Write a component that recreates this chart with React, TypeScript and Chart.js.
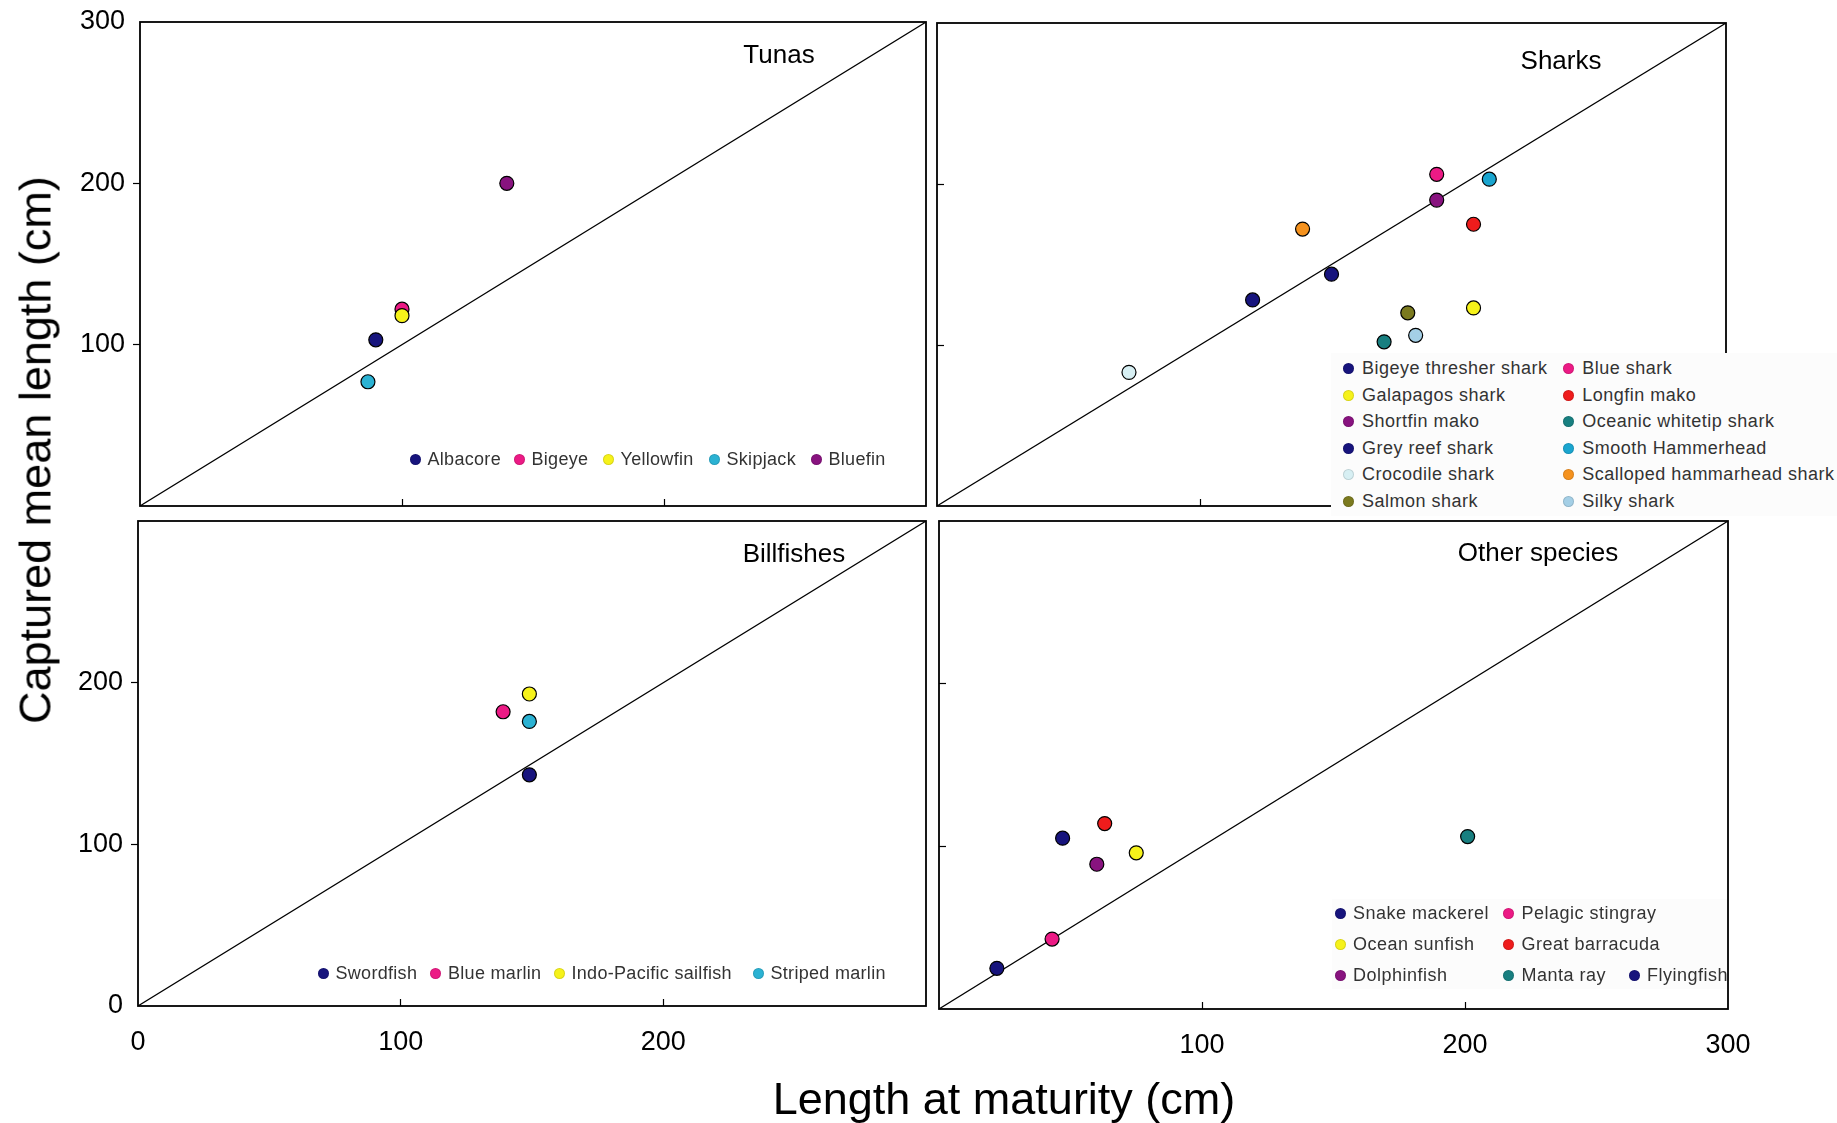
import React, { useEffect, useRef } from 'react';
import { Chart, registerables } from 'chart.js';

Chart.register(...registerables);

// ---------- data ----------
const AXIS_MIN = 0;
const AXIS_MAX = 300;
const AXIS_STEP = 100;
const oneToOneX = [0, 300];
const oneToOneY = [0, 300];

const tunaSpecies = ['Albacore', 'Bigeye', 'Yellowfin', 'Skipjack', 'Bluefin'];
const tunaMaturity = [90, 100, 100, 87, 140];
const tunaCaptured = [103, 122, 118, 77, 200];

const sharkSpecies = [
  'Bigeye thresher shark', 'Blue shark',
  'Galapagos shark', 'Longfin mako',
  'Shortfin mako', 'Oceanic whitetip shark',
  'Grey reef shark', 'Smooth Hammerhead',
  'Crocodile shark', 'Scalloped hammarhead shark',
  'Salmon shark', 'Silky shark',
];
const sharkMaturity = [150, 190, 204, 204, 190, 170, 120, 210, 73, 139, 179, 182];
const sharkCaptured = [144, 206, 123, 175, 190, 102, 128, 203, 83, 172, 120, 106];

const billfishSpecies = ['Swordfish', 'Blue marlin', 'Indo-Pacific sailfish', 'Striped marlin'];
const billfishMaturity = [149, 139, 149, 149];
const billfishCaptured = [143, 182, 193, 176];

const otherSpecies = ['Snake mackerel', 'Pelagic stingray', 'Ocean sunfish', 'Great barracuda', 'Dolphinfish', 'Manta ray', 'Flyingfish'];
const otherMaturity = [47, 43, 75, 63, 60, 201, 22];
const otherCaptured = [105, 43, 96, 114, 89, 106, 25];

// tick labels shown in each panel
const tunaYTickLabels = [100, 200, 300];
const billfishYTickLabels = [0, 100, 200];
const billfishXTickLabels = [0, 100, 200];
const otherXTickLabels = [100, 200, 300];
const noTickLabels: number[] = [];

// ---------- styles ----------
const NAVY = '#17147d';
const PINK = '#ec1a85';
const YELLOW = '#f6f21a';
const SKY = '#2bb2d3';
const PURPLE = '#88137f';
const RED = '#ef1c1c';
const TEAL = '#187f80';
const OLIVE = '#7b7a1f';
const ORANGE = '#f5921e';
const SILKY = '#a4cfe6';
const PALE = '#d7eff3';
const HAMMER = '#1aa5cf';

const tunaColors = [NAVY, PINK, YELLOW, SKY, PURPLE];
const sharkColors = [NAVY, PINK, YELLOW, RED, PURPLE, TEAL, NAVY, HAMMER, PALE, ORANGE, OLIVE, SILKY];
const billfishColors = [NAVY, PINK, YELLOW, SKY];
const otherColors = [NAVY, PINK, YELLOW, RED, PURPLE, TEAL, NAVY];

const FONT = '"Liberation Sans", Arial, Helvetica, sans-serif';

const LM = 110;
const TM = 22;
const RM = 40;
const BM = 70;

type Box = { l: number; t: number; r: number; b: number };

type PanelSpec = {
  box: Box;
  xs: number[];
  ys: number[];
  colors: string[];
  xLabels: number[];
  yLabels: number[];
  yOutside: boolean;
};

const framePlugin = {
  id: 'panelFrame',
  afterDatasetsDraw(chart: any) {
    const { ctx, chartArea: a } = chart;
    ctx.save();
    ctx.strokeStyle = '#000';
    ctx.lineWidth = 1.8;
    ctx.strokeRect(a.left, a.top, a.right - a.left, a.bottom - a.top);
    ctx.restore();
  },
};

function buildConfig(spec: PanelSpec): any {
  const markTick = (c: any) =>
    c.tick && (c.tick.value === 100 || c.tick.value === 200) ? '#000' : 'rgba(0,0,0,0)';
  return {
    type: 'scatter',
    data: {
      datasets: [
        {
          data: spec.xs.map((x, i) => ({ x, y: spec.ys[i] })),
          backgroundColor: spec.colors,
          borderColor: '#000',
          borderWidth: 1.2,
          pointRadius: 7,
          pointHoverRadius: 7,
          order: 0,
        },
        {
          data: oneToOneX.map((x, i) => ({ x, y: oneToOneY[i] })),
          showLine: true,
          borderColor: '#000',
          borderWidth: 1.2,
          pointRadius: 0,
          fill: false,
          order: 1,
        },
      ],
    },
    options: {
      responsive: false,
      animation: false,
      events: [],
      layout: { padding: { left: 0, top: TM, right: RM, bottom: 0 } },
      plugins: { legend: { display: false }, tooltip: { enabled: false }, title: { display: false } },
      scales: {
        x: {
          type: 'linear',
          position: 'bottom',
          min: AXIS_MIN,
          max: AXIS_MAX,
          ticks: {
            stepSize: AXIS_STEP,
            autoSkip: false,
            maxRotation: 0,
            padding: 27,
            color: '#000',
            font: { family: FONT, size: 27 },
            callback: (v: any) => (spec.xLabels.includes(Number(v)) ? String(v) : ''),
          },
          grid: {
            drawOnChartArea: false,
            drawTicks: true,
            tickLength: -7,
            tickWidth: 1.2,
            tickColor: markTick,
          },
          border: { display: false },
          afterFit: (s: any) => {
            s.height = BM;
            s.paddingLeft = 0;
            s.paddingRight = 0;
            s.paddingTop = 0;
            s.paddingBottom = 0;
          },
        },
        y: {
          type: 'linear',
          position: 'left',
          min: AXIS_MIN,
          max: AXIS_MAX,
          ticks: {
            stepSize: AXIS_STEP,
            autoSkip: false,
            padding: 8,
            color: '#000',
            font: { family: FONT, size: 27 },
            callback: (v: any) => (spec.yLabels.includes(Number(v)) ? String(v) : ''),
          },
          grid: {
            drawOnChartArea: false,
            drawTicks: true,
            tickLength: spec.yOutside ? 7 : -7,
            tickWidth: 1.2,
            tickColor: markTick,
          },
          border: { display: false },
          afterFit: (s: any) => {
            s.width = LM;
            s.paddingLeft = 0;
            s.paddingRight = 0;
            s.paddingTop = 0;
            s.paddingBottom = 0;
          },
        },
      },
    },
    plugins: [framePlugin],
  };
}

function Panel({ spec }: { spec: PanelSpec }) {
  const ref = useRef<HTMLCanvasElement | null>(null);
  const w = spec.box.r - spec.box.l + LM + RM;
  const h = spec.box.b - spec.box.t + TM + BM;
  useEffect(() => {
    if (!ref.current) return;
    const chart = new Chart(ref.current, buildConfig(spec));
    return () => chart.destroy();
  }, []);
  return (
    <canvas
      ref={ref}
      width={w}
      height={h}
      style={{ position: 'absolute', left: spec.box.l - LM, top: spec.box.t - TM, width: w, height: h }}
    />
  );
}

function LegendItem({ name, color, x, y, gap, spacing }: { name: string; color: string; x: number; y: number; gap: number; spacing: number }) {
  return (
    <div
      style={{
        position: 'absolute',
        left: x - 5.5,
        top: y - 12,
        height: 24,
        display: 'flex',
        alignItems: 'center',
        whiteSpace: 'nowrap',
        fontFamily: FONT,
        fontSize: 18,
        letterSpacing: spacing,
        color: '#333',
      }}
    >
      <span
        style={{
          display: 'inline-block',
          width: 11,
          height: 11,
          borderRadius: '50%',
          background: color,
          boxShadow: 'inset 0 0 0 1px rgba(0,0,0,0.12)',
          marginRight: gap,
          flex: 'none',
        }}
      />
      <span>{name}</span>
    </div>
  );
}

const tunaLegendX = [415, 519, 608, 714, 816];
const billfishLegendX = [323, 435.5, 559, 758];
const sharkLegendCols = [1348.5, 1568.8];
const sharkLegendRow0 = 368.5;
const sharkLegendRowStep = 26.6;
const otherLegendPos: [number, number][] = [
  [1340, 913], [1508.5, 913],
  [1340, 944], [1508.5, 944],
  [1340, 975], [1508.5, 975], [1634, 975],
];

function Title({ text, x, y }: { text: string; x: number; y: number }) {
  return (
    <div
      style={{
        position: 'absolute',
        left: x,
        top: y,
        transform: 'translate(-50%, -50%)',
        fontFamily: FONT,
        fontSize: 26,
        lineHeight: 1,
        color: '#000',
        whiteSpace: 'nowrap',
      }}
    >
      {text}
    </div>
  );
}

export default function App() {
  const panels: PanelSpec[] = [
    { box: { l: 140, t: 22, r: 926, b: 506 }, xs: tunaMaturity, ys: tunaCaptured, colors: tunaColors, xLabels: noTickLabels, yLabels: tunaYTickLabels, yOutside: true },
    { box: { l: 937, t: 23, r: 1726, b: 506 }, xs: sharkMaturity, ys: sharkCaptured, colors: sharkColors, xLabels: noTickLabels, yLabels: noTickLabels, yOutside: false },
    { box: { l: 138, t: 521, r: 926, b: 1006 }, xs: billfishMaturity, ys: billfishCaptured, colors: billfishColors, xLabels: billfishXTickLabels, yLabels: billfishYTickLabels, yOutside: true },
    { box: { l: 939, t: 521, r: 1728, b: 1009 }, xs: otherMaturity, ys: otherCaptured, colors: otherColors, xLabels: otherXTickLabels, yLabels: noTickLabels, yOutside: false },
  ];

  return (
    <div style={{ position: 'absolute', left: 0, top: 0, width: 1837, height: 1123, background: '#fff', overflow: 'hidden' }}>
      {panels.map((p, i) => (
        <Panel key={i} spec={p} />
      ))}

      <Title text="Tunas" x={779} y={54} />
      <Title text="Sharks" x={1561} y={60} />
      <Title text="Billfishes" x={794} y={553} />
      <Title text="Other species" x={1538} y={552} />

      {tunaSpecies.map((n, i) => (
        <LegendItem key={n} name={n} color={tunaColors[i]} x={tunaLegendX[i]} y={459} gap={7} spacing={0.3} />
      ))}
      {billfishSpecies.map((n, i) => (
        <LegendItem key={n} name={n} color={billfishColors[i]} x={billfishLegendX[i]} y={973.5} gap={7} spacing={0.3} />
      ))}

      <div style={{ position: 'absolute', left: 1331, top: 353, width: 506, height: 163, background: '#fcfcfc' }} />
      {sharkSpecies.map((n, i) => (
        <LegendItem
          key={n}
          name={n}
          color={sharkColors[i]}
          x={sharkLegendCols[i % 2]}
          y={sharkLegendRow0 + Math.floor(i / 2) * sharkLegendRowStep}
          gap={8}
          spacing={0.5}
        />
      ))}

      <div style={{ position: 'absolute', left: 1332, top: 899, width: 395, height: 90, background: '#fcfcfc' }} />
      {otherSpecies.map((n, i) => (
        <LegendItem key={n} name={n} color={otherColors[i]} x={otherLegendPos[i][0]} y={otherLegendPos[i][1]} gap={7.5} spacing={0.5} />
      ))}

      <div
        style={{
          position: 'absolute',
          left: 35,
          top: 450,
          transform: 'translate(-50%, -50%) rotate(-90deg)',
          fontFamily: FONT,
          fontSize: 45,
          lineHeight: 1,
          whiteSpace: 'nowrap',
          color: '#000',
        }}
      >
        Captured mean length (cm)
      </div>
      <div
        style={{
          position: 'absolute',
          left: 1004,
          top: 1098,
          transform: 'translate(-50%, -50%)',
          fontFamily: FONT,
          fontSize: 45,
          lineHeight: 1,
          whiteSpace: 'nowrap',
          color: '#000',
        }}
      >
        Length at maturity (cm)
      </div>
    </div>
  );
}
